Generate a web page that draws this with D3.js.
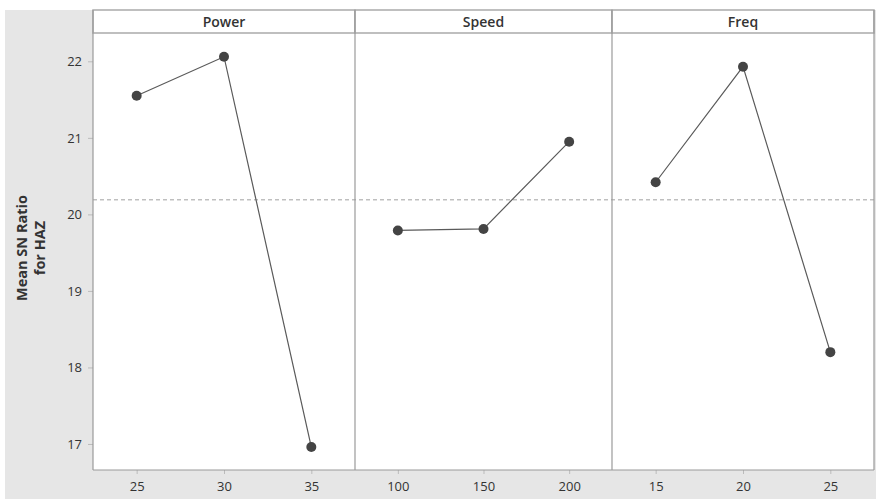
<!DOCTYPE html>
<html>
<head>
<meta charset="utf-8">
<script src="https://cdn.jsdelivr.net/npm/d3@7"></script>
<style>
  body { margin: 0; background: #fff; }
  text { font-family: "Open Sans", "DejaVu Sans", sans-serif; }
</style>
</head>
<body>
<script>
var width = 876,
    height = 499;

// factors and their levels
var factors = ["Power", "Speed", "Freq"];
var powerLevels = ["25", "30", "35"];
var speedLevels = ["100", "150", "200"];
var freqLevels = ["15", "20", "25"];

// mean SN ratio per level
var powerMeans = [21.55, 22.06, 16.96];
var speedMeans = [19.79, 19.81, 20.95];
var freqMeans = [20.42, 21.93, 18.20];

var grandMean = 20.19;
var yTicks = [17, 18, 19, 20, 21, 22];

var levels = [powerLevels, speedLevels, freqLevels];
var means = [powerMeans, speedMeans, freqMeans];

// panel edges (pixels)
var panelEdges = [93, 355, 612, 874];
var plotTop = 10, stripH = 23, plotBottom = 470;

var svg = d3.select("body").append("svg")
    .attr("width", width)
    .attr("height", height);

// grey frame background
svg.append("rect")
    .attr("x", 5).attr("y", 10)
    .attr("width", width - 5).attr("height", height - 10)
    .style("fill", "#e6e6e6");

var y = d3.scaleLinear()
    .domain([16.66, 22.37])
    .range([plotBottom, plotTop + stripH]);

// white plot area
svg.append("rect")
    .attr("x", panelEdges[0]).attr("y", plotTop)
    .attr("width", panelEdges[3] - panelEdges[0]).attr("height", plotBottom - plotTop)
    .style("fill", "#fff");

// y axis
var yAxis = svg.append("g")
    .attr("transform", "translate(" + panelEdges[0] + ",0)")
    .call(d3.axisLeft(y).tickValues(yTicks).tickSize(5).tickPadding(6).tickFormat(d3.format("d")));
yAxis.select(".domain").remove();
yAxis.selectAll("line").style("stroke", "#bbb");
yAxis.selectAll("text").style("font-size", "13px").style("fill", "#333");

// mean reference line
svg.append("line")
    .attr("x1", panelEdges[0]).attr("x2", panelEdges[3])
    .attr("y1", y(grandMean)).attr("y2", y(grandMean))
    .style("stroke", "#a0a0a0")
    .style("stroke-width", 1)
    .style("stroke-dasharray", "4,3");

var line = d3.line();

factors.forEach(function (f, i) {
    var x0 = panelEdges[i], x1 = panelEdges[i + 1];
    var x = d3.scalePoint().domain(levels[i]).range([x0, x1]).padding(0.5);

    // strip header
    svg.append("rect")
        .attr("x", x0).attr("y", plotTop)
        .attr("width", x1 - x0).attr("height", stripH)
        .style("fill", "#fff")
        .style("stroke", "#aaa")
        .style("stroke-width", 1.5);
    svg.append("text")
        .attr("x", (x0 + x1) / 2).attr("y", plotTop + 16.5)
        .attr("text-anchor", "middle")
        .style("font-size", "14px")
        .style("font-weight", "600")
        .style("fill", "#333")
        .text(f);

    // panel border
    svg.append("line")
        .attr("x1", x0).attr("x2", x0)
        .attr("y1", plotTop).attr("y2", plotBottom)
        .style("stroke", "#9a9a9a").style("stroke-width", 1.2);

    // x axis
    var xAxis = svg.append("g")
        .attr("transform", "translate(0," + plotBottom + ")")
        .call(d3.axisBottom(x).tickSize(4).tickPadding(8));
    xAxis.select(".domain").remove();
    xAxis.selectAll("line").style("stroke", "#bbb");
    xAxis.selectAll("text").style("font-size", "13px").style("fill", "#333");

    var pts = levels[i].map(function (l, j) { return [x(l), y(means[i][j])]; });

    svg.append("path")
        .attr("d", line(pts))
        .style("fill", "none")
        .style("stroke", "#5a5a5a")
        .style("stroke-width", 1.2);

    svg.selectAll(".pt" + i)
        .data(pts)
        .enter().append("circle")
        .attr("class", "pt" + i)
        .attr("cx", function (d) { return d[0]; })
        .attr("cy", function (d) { return d[1]; })
        .attr("r", 5)
        .style("fill", "#444");
});

// right border and bottom line
svg.append("line")
    .attr("x1", panelEdges[3]).attr("x2", panelEdges[3])
    .attr("y1", plotTop).attr("y2", plotBottom)
    .style("stroke", "#9a9a9a").style("stroke-width", 1.2);
svg.append("line")
    .attr("x1", panelEdges[0]).attr("x2", panelEdges[3])
    .attr("y1", plotBottom).attr("y2", plotBottom)
    .style("stroke", "#9a9a9a").style("stroke-width", 1.2);

// y axis title
var title = svg.append("text")
    .attr("transform", "translate(30,248) rotate(-90)")
    .attr("text-anchor", "middle")
    .style("font-size", "14.5px")
    .style("font-weight", "bold")
    .style("fill", "#333");
title.append("tspan").attr("x", 0).attr("dy", "-0.2em").text("Mean SN Ratio");
title.append("tspan").attr("x", 0).attr("dy", "1.25em").text("for HAZ");
</script>
</body>
</html>
